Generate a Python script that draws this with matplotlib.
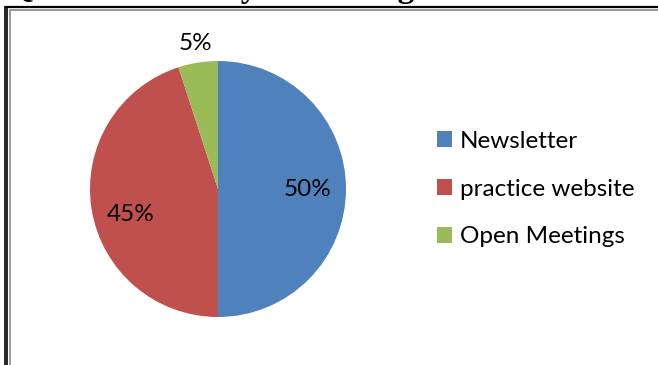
import matplotlib.pyplot as plt
from matplotlib.patches import Patch
from matplotlib.lines import Line2D
import numpy as np

# survey answers (percent)
labels = ['Newsletter', 'practice website', 'Open Meetings']
values = [50, 45, 5]
colors = ['#4F81BD', '#C0504D', '#9BBB59']

W, H = 658, 365
fig = plt.figure(figsize=(W / 100, H / 100), dpi=100)

# page decoration: question heading and frame lines
bg = fig.add_axes([0, 0, 1, 1])
bg.set_xlim(0, W)
bg.set_ylim(H, 0)
bg.axis('off')
bg.text(8, -2.5, 'Q3: How would you like to get information?', fontsize=24,
        fontweight='bold', family='Liberation Serif', va='baseline', ha='left')
bg.add_line(Line2D([5.5, W], [7, 7], color='black', lw=1.6))
bg.add_line(Line2D([4.5, 4.5], [7, H], color='black', lw=1.2))
bg.add_line(Line2D([7.2, 7.2], [7, H], color='black', lw=1.2))
bg.add_line(Line2D([10.5, W], [10, 10], color='#9a9a9a', lw=1.4))
bg.add_line(Line2D([10, 10], [10, H], color='#9a9a9a', lw=1.4))

# pie area: centre (218, 189) px, radius 128 px
cx, cy, r = 218, 189, 128
ax = fig.add_axes([(cx - r) / W, (H - cy - r) / H, 2 * r / W, 2 * r / H])
wedges, _, autotexts = ax.pie(values, colors=colors, startangle=90, counterclock=False,
                              autopct='%d%%', pctdistance=0.7, radius=1,
                              textprops=dict(fontsize=17.5, family='Lato'))
ax.set_xlim(-1, 1)
ax.set_ylim(-1, 1)

dist = [0.7, 0.71, 1.15]
shift = [0, 7.5, 0]
for w, t, d, s in zip(wedges, autotexts, dist, shift):
    ang = np.deg2rad((w.theta1 + w.theta2) / 2 + s)
    t.set_position((d * np.cos(ang), d * np.sin(ang)))
    t.set_color('black')

handles = [Patch(facecolor=c, edgecolor='none') for c in colors]
fig.legend(handles, labels, loc='center left', bbox_to_anchor=(437 / W, (H - 189) / H),
           frameon=False, prop=dict(family='Lato', size=17.5), handlelength=0.62,
           handleheight=0.62, handletextpad=0.33, labelspacing=1.11, borderpad=0,
           borderaxespad=0)

fig.savefig('out.png', dpi=100)
